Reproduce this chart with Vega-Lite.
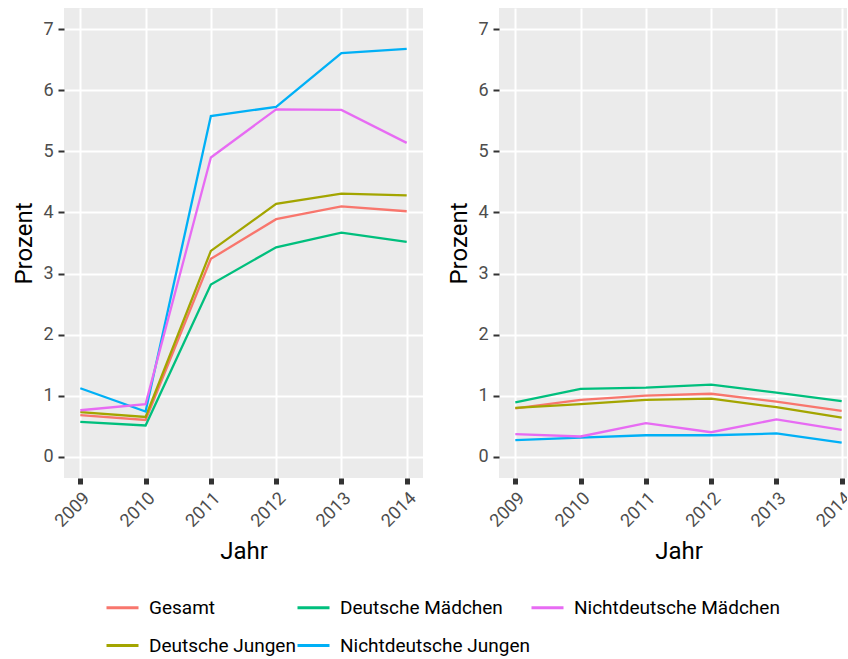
{
  "$schema": "https://vega.github.io/schema/vega-lite/v6.json",
  "background": "white",
  "padding": {"left": 12, "top": 8, "right": -11, "bottom": 0},
  "config": {
    "font": "Roboto",
    "view": {"fill": "#EBEBEB", "stroke": null},
    "axis": {
      "domain": false,
      "gridColor": "white",
      "gridOpacity": 1,
      "tickColor": "#333333",
      "labelColor": "#4D4D4D",
      "labelFontSize": 18,
      "labelFont": "Roboto",
      "titleFont": "Roboto",
      "titleFontSize": 24,
      "titleFontWeight": "normal",
      "titleColor": "black",
      "labelOverlap": false,
      "labelFlush": false
    }
  },
  "datasets": {
    "links": [
      {"Jahr": 2009, "Gruppe": "Gesamt", "Prozent": 0.68},
      {"Jahr": 2010, "Gruppe": "Gesamt", "Prozent": 0.60},
      {"Jahr": 2011, "Gruppe": "Gesamt", "Prozent": 3.24},
      {"Jahr": 2012, "Gruppe": "Gesamt", "Prozent": 3.89},
      {"Jahr": 2013, "Gruppe": "Gesamt", "Prozent": 4.10},
      {"Jahr": 2014, "Gruppe": "Gesamt", "Prozent": 4.02},
      {"Jahr": 2009, "Gruppe": "Deutsche Jungen", "Prozent": 0.73},
      {"Jahr": 2010, "Gruppe": "Deutsche Jungen", "Prozent": 0.65},
      {"Jahr": 2011, "Gruppe": "Deutsche Jungen", "Prozent": 3.37},
      {"Jahr": 2012, "Gruppe": "Deutsche Jungen", "Prozent": 4.14},
      {"Jahr": 2013, "Gruppe": "Deutsche Jungen", "Prozent": 4.31},
      {"Jahr": 2014, "Gruppe": "Deutsche Jungen", "Prozent": 4.28},
      {"Jahr": 2009, "Gruppe": "Deutsche Mädchen", "Prozent": 0.57},
      {"Jahr": 2010, "Gruppe": "Deutsche Mädchen", "Prozent": 0.51},
      {"Jahr": 2011, "Gruppe": "Deutsche Mädchen", "Prozent": 2.82},
      {"Jahr": 2012, "Gruppe": "Deutsche Mädchen", "Prozent": 3.43},
      {"Jahr": 2013, "Gruppe": "Deutsche Mädchen", "Prozent": 3.67},
      {"Jahr": 2014, "Gruppe": "Deutsche Mädchen", "Prozent": 3.52},
      {"Jahr": 2009, "Gruppe": "Nichtdeutsche Jungen", "Prozent": 1.12},
      {"Jahr": 2010, "Gruppe": "Nichtdeutsche Jungen", "Prozent": 0.74},
      {"Jahr": 2011, "Gruppe": "Nichtdeutsche Jungen", "Prozent": 5.58},
      {"Jahr": 2012, "Gruppe": "Nichtdeutsche Jungen", "Prozent": 5.73},
      {"Jahr": 2013, "Gruppe": "Nichtdeutsche Jungen", "Prozent": 6.61},
      {"Jahr": 2014, "Gruppe": "Nichtdeutsche Jungen", "Prozent": 6.68},
      {"Jahr": 2009, "Gruppe": "Nichtdeutsche Mädchen", "Prozent": 0.76},
      {"Jahr": 2010, "Gruppe": "Nichtdeutsche Mädchen", "Prozent": 0.86},
      {"Jahr": 2011, "Gruppe": "Nichtdeutsche Mädchen", "Prozent": 4.90},
      {"Jahr": 2012, "Gruppe": "Nichtdeutsche Mädchen", "Prozent": 5.69},
      {"Jahr": 2013, "Gruppe": "Nichtdeutsche Mädchen", "Prozent": 5.68},
      {"Jahr": 2014, "Gruppe": "Nichtdeutsche Mädchen", "Prozent": 5.14}
    ],
    "rechts": [
      {"Jahr": 2009, "Gruppe": "Gesamt", "Prozent": 0.79},
      {"Jahr": 2010, "Gruppe": "Gesamt", "Prozent": 0.93},
      {"Jahr": 2011, "Gruppe": "Gesamt", "Prozent": 1.00},
      {"Jahr": 2012, "Gruppe": "Gesamt", "Prozent": 1.03},
      {"Jahr": 2013, "Gruppe": "Gesamt", "Prozent": 0.90},
      {"Jahr": 2014, "Gruppe": "Gesamt", "Prozent": 0.75},
      {"Jahr": 2009, "Gruppe": "Deutsche Jungen", "Prozent": 0.80},
      {"Jahr": 2010, "Gruppe": "Deutsche Jungen", "Prozent": 0.86},
      {"Jahr": 2011, "Gruppe": "Deutsche Jungen", "Prozent": 0.93},
      {"Jahr": 2012, "Gruppe": "Deutsche Jungen", "Prozent": 0.95},
      {"Jahr": 2013, "Gruppe": "Deutsche Jungen", "Prozent": 0.81},
      {"Jahr": 2014, "Gruppe": "Deutsche Jungen", "Prozent": 0.64},
      {"Jahr": 2009, "Gruppe": "Deutsche Mädchen", "Prozent": 0.89},
      {"Jahr": 2010, "Gruppe": "Deutsche Mädchen", "Prozent": 1.11},
      {"Jahr": 2011, "Gruppe": "Deutsche Mädchen", "Prozent": 1.13},
      {"Jahr": 2012, "Gruppe": "Deutsche Mädchen", "Prozent": 1.18},
      {"Jahr": 2013, "Gruppe": "Deutsche Mädchen", "Prozent": 1.05},
      {"Jahr": 2014, "Gruppe": "Deutsche Mädchen", "Prozent": 0.91},
      {"Jahr": 2009, "Gruppe": "Nichtdeutsche Jungen", "Prozent": 0.27},
      {"Jahr": 2010, "Gruppe": "Nichtdeutsche Jungen", "Prozent": 0.31},
      {"Jahr": 2011, "Gruppe": "Nichtdeutsche Jungen", "Prozent": 0.35},
      {"Jahr": 2012, "Gruppe": "Nichtdeutsche Jungen", "Prozent": 0.35},
      {"Jahr": 2013, "Gruppe": "Nichtdeutsche Jungen", "Prozent": 0.38},
      {"Jahr": 2014, "Gruppe": "Nichtdeutsche Jungen", "Prozent": 0.23},
      {"Jahr": 2009, "Gruppe": "Nichtdeutsche Mädchen", "Prozent": 0.37},
      {"Jahr": 2010, "Gruppe": "Nichtdeutsche Mädchen", "Prozent": 0.33},
      {"Jahr": 2011, "Gruppe": "Nichtdeutsche Mädchen", "Prozent": 0.55},
      {"Jahr": 2012, "Gruppe": "Nichtdeutsche Mädchen", "Prozent": 0.40},
      {"Jahr": 2013, "Gruppe": "Nichtdeutsche Mädchen", "Prozent": 0.61},
      {"Jahr": 2014, "Gruppe": "Nichtdeutsche Mädchen", "Prozent": 0.44}
    ]
  },
  "spacing": 24,
  "hconcat": [
    {
      "width": 359,
      "height": 470,
      "data": {"name": "links"},
      "mark": {"type": "line", "strokeWidth": 2.3},
      "encoding": {
        "x": {
          "field": "Jahr", "type": "quantitative",
          "scale": {"domain": [2008.75, 2014.25], "nice": false, "zero": false},
          "axis": {
            "title": "Jahr",
            "values": [2009, 2009.5, 2010, 2010.5, 2011, 2011.5, 2012, 2012.5, 2013, 2013.5, 2014],
            "format": "d",
            "labelExpr": "datum.value % 1 === 0 ? datum.label : ''",
            "gridWidth": {"condition": {"test": "datum.value % 1 === 0", "value": 2}, "value": 1},
            "tickOpacity": {"condition": {"test": "datum.value % 1 === 0", "value": 1}, "value": 0},
            "tickSize": 6, "tickWidth": 5,
            "labelAngle": -45, "labelAlign": "right", "labelBaseline": "top", "labelPadding": 5,
            "titlePadding": 9
          }
        },
        "y": {
          "field": "Prozent", "type": "quantitative",
          "scale": {"domain": [-0.35, 7.35], "nice": false, "zero": false},
          "axis": {
            "title": "Prozent",
            "values": [0, 0.5, 1, 1.5, 2, 2.5, 3, 3.5, 4, 4.5, 5, 5.5, 6, 6.5, 7],
            "format": "d",
            "labelExpr": "datum.value % 1 === 0 ? datum.label : ''",
            "gridWidth": {"condition": {"test": "datum.value % 1 === 0", "value": 2}, "value": 1},
            "tickOpacity": {"condition": {"test": "datum.value % 1 === 0", "value": 1}, "value": 0},
            "tickSize": 6, "tickWidth": 2,
            "labelPadding": 5,
            "titlePadding": 6
          }
        },
        "color": {
          "field": "Gruppe", "type": "nominal",
          "scale": {
            "domain": ["Gesamt", "Deutsche Mädchen", "Nichtdeutsche Mädchen", "Deutsche Jungen", "Nichtdeutsche Jungen"],
            "range": ["#F8766D", "#00BF7D", "#E76BF3", "#A3A500", "#00B0F6"]
          },
          "legend": {
            "title": null,
            "orient": "none",
            "legendX": 41,
            "legendY": 582,
            "direction": "horizontal",
            "columns": 3,
            "symbolType": "stroke",
            "symbolSize": 1024,
            "symbolStrokeWidth": 3,
            "labelFontSize": 19,
            "labelColor": "black",
            "labelFont": "Roboto",
            "labelLimit": 400,
            "labelOffset": 9,
            "columnPadding": -8,
            "rowPadding": 10
          }
        }
      }
    },
    {
      "width": 359,
      "height": 470,
      "data": {"name": "rechts"},
      "mark": {"type": "line", "strokeWidth": 2.3},
      "encoding": {
        "x": {
          "field": "Jahr", "type": "quantitative",
          "scale": {"domain": [2008.75, 2014.25], "nice": false, "zero": false},
          "axis": {
            "title": "Jahr",
            "values": [2009, 2009.5, 2010, 2010.5, 2011, 2011.5, 2012, 2012.5, 2013, 2013.5, 2014],
            "format": "d",
            "labelExpr": "datum.value % 1 === 0 ? datum.label : ''",
            "gridWidth": {"condition": {"test": "datum.value % 1 === 0", "value": 2}, "value": 1},
            "tickOpacity": {"condition": {"test": "datum.value % 1 === 0", "value": 1}, "value": 0},
            "tickSize": 6, "tickWidth": 5,
            "labelAngle": -45, "labelAlign": "right", "labelBaseline": "top", "labelPadding": 5,
            "titlePadding": 9
          }
        },
        "y": {
          "field": "Prozent", "type": "quantitative",
          "scale": {"domain": [-0.35, 7.35], "nice": false, "zero": false},
          "axis": {
            "title": "Prozent",
            "values": [0, 0.5, 1, 1.5, 2, 2.5, 3, 3.5, 4, 4.5, 5, 5.5, 6, 6.5, 7],
            "format": "d",
            "labelExpr": "datum.value % 1 === 0 ? datum.label : ''",
            "gridWidth": {"condition": {"test": "datum.value % 1 === 0", "value": 2}, "value": 1},
            "tickOpacity": {"condition": {"test": "datum.value % 1 === 0", "value": 1}, "value": 0},
            "tickSize": 6, "tickWidth": 2,
            "labelPadding": 5,
            "titlePadding": 6
          }
        },
        "color": {
          "field": "Gruppe", "type": "nominal",
          "scale": {
            "domain": ["Gesamt", "Deutsche Mädchen", "Nichtdeutsche Mädchen", "Deutsche Jungen", "Nichtdeutsche Jungen"],
            "range": ["#F8766D", "#00BF7D", "#E76BF3", "#A3A500", "#00B0F6"]
          },
          "legend": {
            "title": null,
            "orient": "none",
            "legendX": 41,
            "legendY": 582,
            "direction": "horizontal",
            "columns": 3,
            "symbolType": "stroke",
            "symbolSize": 1024,
            "symbolStrokeWidth": 3,
            "labelFontSize": 19,
            "labelColor": "black",
            "labelFont": "Roboto",
            "labelLimit": 400,
            "labelOffset": 9,
            "columnPadding": -8,
            "rowPadding": 10
          }
        }
      }
    }
  ]
}
